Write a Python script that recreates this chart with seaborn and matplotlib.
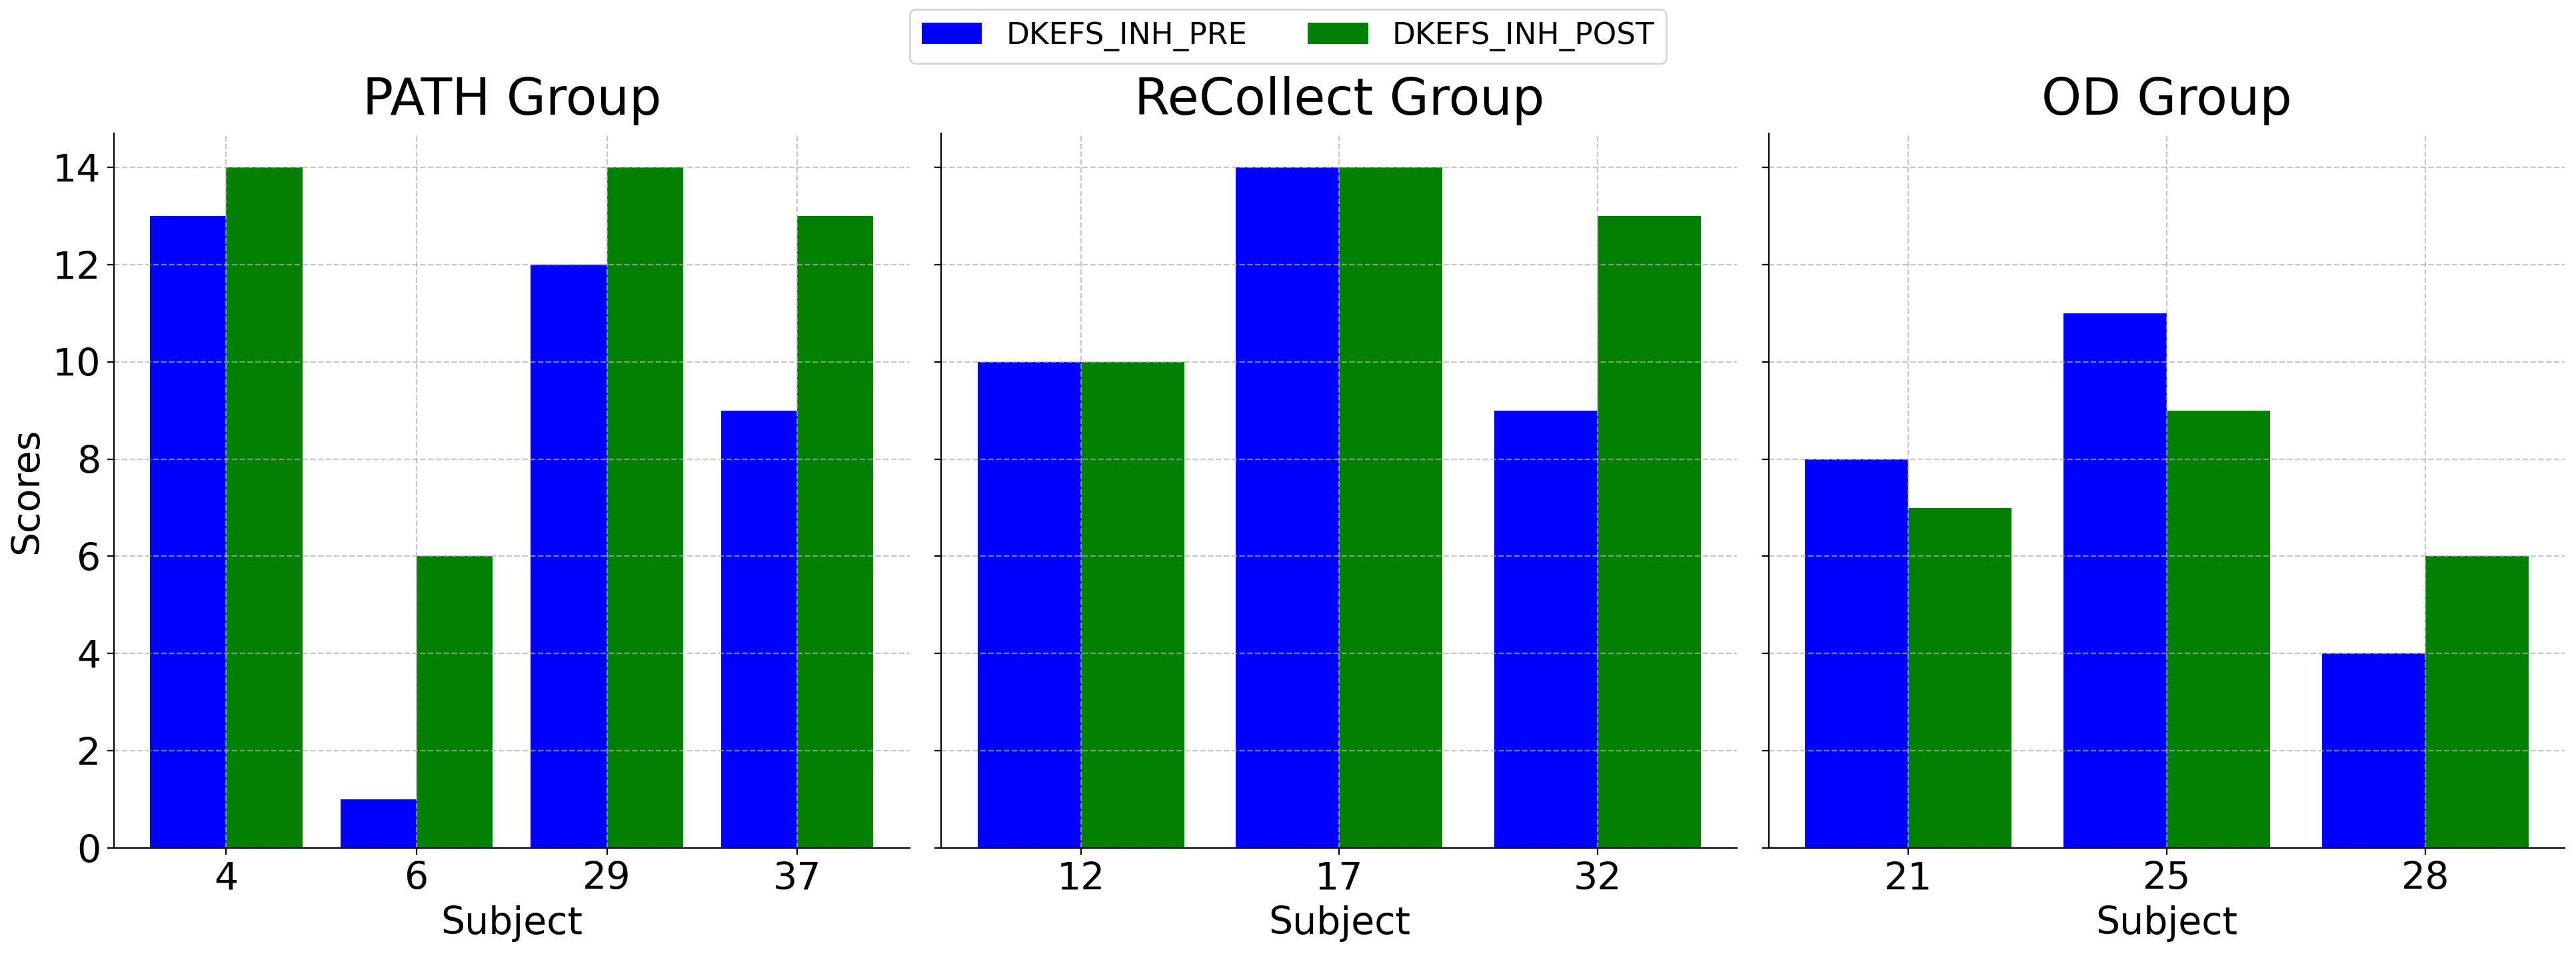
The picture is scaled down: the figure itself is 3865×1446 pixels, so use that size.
import pandas as pd
import matplotlib
matplotlib.use("Agg")
import matplotlib.pyplot as plt
from matplotlib.patches import Patch
import seaborn as sns

# Scores
groups = ["PATH Group", "ReCollect Group", "OD Group"]
path_subjects = ["4", "6", "29", "37"]
path_pre = [13, 1, 12, 9]
path_post = [14, 6, 14, 13]
recollect_subjects = ["12", "17", "32"]
recollect_pre = [10, 14, 9]
recollect_post = [10, 14, 13]
od_subjects = ["21", "25", "28"]
od_pre = [8, 11, 4]
od_post = [7, 9, 6]

measures = ["DKEFS_INH_PRE", "DKEFS_INH_POST"]
colors = ["blue", "green"]


def long_df(subjects, pre, post):
    '''
    Turn one group's pre/post scores into a long table for seaborn.
    '''
    df = pd.DataFrame({"Subject": subjects, measures[0]: pre, measures[1]: post})
    return df.melt(id_vars="Subject", var_name="Measure", value_name="Scores")


group_data = [
    long_df(path_subjects, path_pre, path_post),
    long_df(recollect_subjects, recollect_pre, recollect_post),
    long_df(od_subjects, od_pre, od_post),
]

plt.rcParams["font.family"] = ["DejaVu Sans"]

fig, axes = plt.subplots(1, 3, figsize=(19.325, 7.23), dpi=200, sharey=True)
fig.subplots_adjust(left=0.0442, right=0.9956, top=0.8617, bottom=0.1203, wspace=0.040)

for i, (ax, title, df) in enumerate(zip(axes, groups, group_data)):
    sns.barplot(data=df, x="Subject", y="Scores", hue="Measure",
                hue_order=measures, palette=colors, saturation=1,
                errorbar=None, linewidth=0, legend=False, ax=ax)
    # go back to plain matplotlib margins on the category axis
    ax.autoscale(enable=True, axis="x")
    ax.grid(True, linestyle="--", alpha=0.7)
    ax.set_axisbelow("line")
    ax.set_title(title, fontsize=27.5, pad=10)
    ax.set_xlabel("Subject", fontsize=20.5)
    if i == 0:
        ax.set_ylabel("Scores", fontsize=20.5)
    else:
        ax.set_ylabel("")
    ax.tick_params(axis="both", labelsize=20.5)
    sns.despine(ax=ax)

handles = [Patch(facecolor=c, label=m) for c, m in zip(colors, measures)]
fig.legend(handles=handles, loc="upper center", ncol=2, fontsize=16.3,
           bbox_to_anchor=(0.5, 1.0), borderaxespad=0.3)

plt.savefig("out.png", dpi=200)
